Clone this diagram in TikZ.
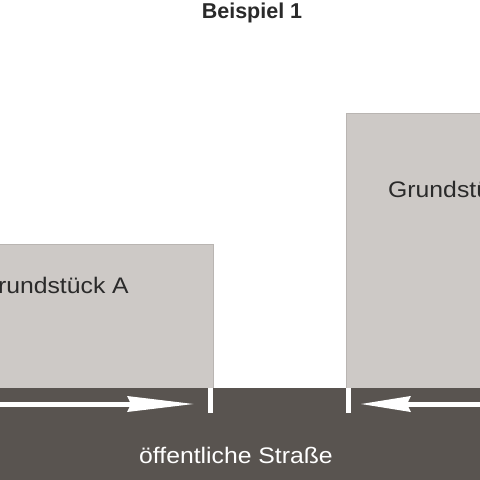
\documentclass[tikz,border=0pt]{standalone}
\usepackage{fontspec}
\setmainfont{Liberation Sans}
\usetikzlibrary{arrows.meta}
\definecolor{plotgray}{HTML}{CDC9C6}
\definecolor{plotedge}{HTML}{B9B5B2}
\definecolor{roadgray}{HTML}{595450}
\definecolor{textdark}{HTML}{2A2A2A}
\tikzset{
  plot/.style={fill=plotgray, draw=plotedge, line width=1pt},
  road/.style={fill=roadgray, draw=none},
  tick/.style={fill=white, draw=none},
  lbl/.style={font=\fontsize{22.5}{27}\selectfont, text=textdark, inner sep=0pt, xscale=1.1, transform shape},
  roadlbl/.style={font=\fontsize{22.5}{27}\selectfont, text=white, inner sep=0pt, xscale=1.1, transform shape},
  ttl/.style={font=\fontsize{21.5}{26}\selectfont\bfseries, text=textdark, inner sep=0pt},
  flow/.style={white, line width=5pt},
}
\begin{document}
\begin{tikzpicture}[x=1pt,y=-1pt]
\useasboundingbox (0,0) rectangle (480,480);
\fill[white] (0,0) rectangle (480,480);
% plots
\draw[plot] (-5,244) rectangle (213,390);
\draw[plot] (346,113) rectangle (485,390);
% road
\fill[road] (0,387.5) rectangle (480,480);
% ticks
\fill[tick] (208,387.5) rectangle (213,413);
\fill[tick] (345.5,387.5) rectangle (350.5,413);
% arrows
\coordinate (la0) at (-2,404);
\coordinate (la1) at (195,404);
\coordinate (ra0) at (482,404);
\coordinate (ra1) at (360,404);
\draw[flow, -{Stealth[length=67pt,width=15pt,inset=3pt]}] (la0) -- (la1);
\draw[flow, -{Stealth[length=50pt,width=15pt,inset=3pt]}] (ra0) -- (ra1);
% texts
\node[ttl, anchor=base] (title) at (252,18) {Beispiel 1};
\node[lbl, anchor=base east] (ga) at (129,293) {Grundstück A};
\node[lbl, anchor=base west] (gb) at (388,197) {Grundstück B};
\node[roadlbl, anchor=base] (str) at (236,463) {öffentliche Straße};
\end{tikzpicture}
\end{document}
